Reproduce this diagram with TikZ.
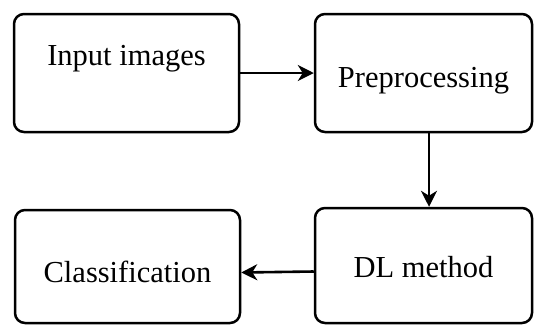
\documentclass[tikz,border=0pt]{standalone}
\usepackage{fontspec}
\setmainfont{Liberation Serif}
\usetikzlibrary{arrows.meta}

\begin{document}
\begin{tikzpicture}
    % pixel units, y pointing down
    [x=1pt,y=-1pt,line join=round,
     box/.style={draw,line width=2.5pt,rounded corners=10pt,inner sep=0pt,
                 font=\fontsize{30.5}{36}\selectfont},
     arr/.style={-{Stealth[length=16pt,width=16pt,inset=5pt]},line width=1.4pt}]

    \useasboundingbox (0,0) rectangle (534,325);

    \node[box,minimum width=225pt,minimum height=118pt,text height=0pt,text depth=16pt]
        (inp) at (126.5,  73.0) {Input images};
    \node[box,minimum width=217pt,minimum height=118pt,text height=28pt,text depth=0pt]
        (pre) at (423.5,  73.0) {Preprocessing};
    \node[box,minimum width=225pt,minimum height=113pt,text height=31pt,text depth=0pt]
        (cls) at (127.5, 266.5) {Classification};
    \node[box,minimum width=217pt,minimum height=115pt,text height=23pt,text depth=0pt]
        (dlm) at (423.5, 265.5) {DL method};

    \draw[arr] (inp) -- (pre);
    \draw[arr] ([xshift=5.5pt]pre.south) -- ([xshift=5.5pt]dlm.north);
    \draw[arr,line width=2.6pt] ([yshift=-6pt]dlm.west) -- ([yshift=-6pt]cls.east);
  \end{tikzpicture}
\end{document}
